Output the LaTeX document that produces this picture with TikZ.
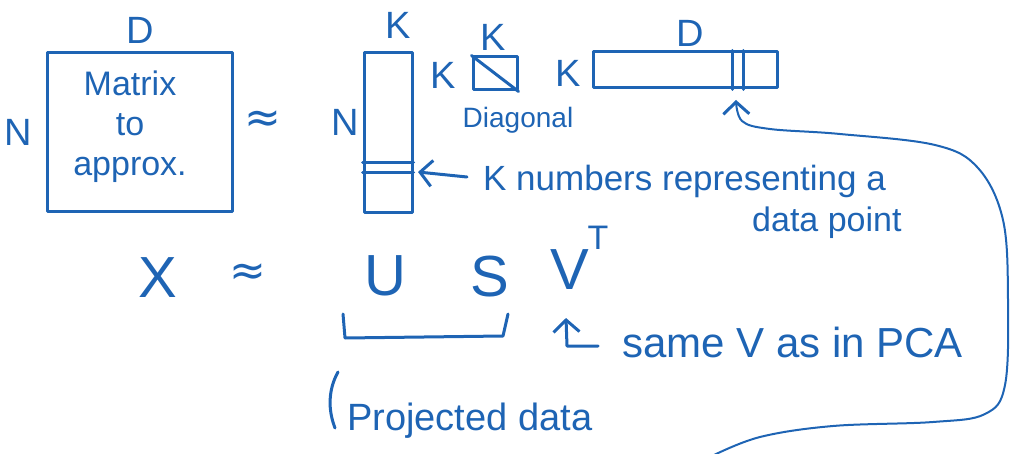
\documentclass[tikz,border=0pt]{standalone}
\usepackage{fontspec}
\setmainfont{Liberation Sans}
\newfontfamily\symfont{DejaVu Sans}
\usetikzlibrary{arrows.meta}
\definecolor{ink}{RGB}{30,100,180}
\tikzset{
  pen/.style={draw=ink, line width=3pt, line cap=round, line join=round},
  thin pen/.style={draw=ink, line width=2pt, line cap=round, line join=round},
  txt/.style={text=ink, inner sep=0pt, font=\fontsize{#1}{#1}\selectfont},
  txt/.default=34,
  approxsym/.style={text=ink, inner sep=0pt, font=\symfont\fontsize{#1}{#1}\selectfont},
  tip/.style={-{Straight Barb[length=12pt,width=26pt,line width=3pt]}}
}
\begin{document}
\begin{tikzpicture}[x=1pt,y=-1pt]
\useasboundingbox (0,0) rectangle (1011,454);
% --- X matrix
\node[txt=38] (d1) at (140,30) {D};
\node[pen, minimum width=185pt, minimum height=159pt, inner sep=0pt] (xbox) at (139.5,132.5) {};
\node[txt=34, align=center, font=\fontsize{34}{40}\selectfont] (xtext) at (130,127) {Matrix\\to\\approx.};
\node[txt=38] (n1) at (18,132) {N};
\node[approxsym=44] (ap1) at (263,122) {≈};
% --- U
\node[txt=38] (k1) at (398,25) {K};
\node[txt=38] (n2) at (345,122) {N};
\node[pen, minimum width=48pt, minimum height=160pt, inner sep=0pt] (ubox) at (388,133) {};
\draw[pen] (ubox.west |- 0,163) -- (ubox.east |- 0,163);
\draw[pen] (ubox.west |- 0,173) -- (ubox.east |- 0,173);
\coordinate (urow) at (418,172);
% --- S
\node[txt=38] (k2) at (493,37) {K};
\node[txt=38] (k3) at (443,75) {K};
\node[pen, minimum width=44pt, minimum height=33pt, inner sep=0pt] (sbox) at (495,73.5) {};
\draw[pen] (sbox.north west) -- (sbox.south east);
\node[txt=28] (diag) at (518,120) {Diagonal};
% --- V^T
\node[txt=38] (d2) at (690,33) {D};
\node[txt=38] (k4) at (568,73) {K};
\node[pen, minimum width=184pt, minimum height=36pt, inner sep=0pt] (vbox) at (685,70) {};
\draw[pen] (732,0 |- vbox.north) -- (732,0 |- vbox.south);
\draw[pen] (743,0 |- vbox.north) -- (743,0 |- vbox.south);
\coordinate (vcol) at (736,100);
% --- annotation: K numbers
\node[txt=35, anchor=base west] (knum) at (483,191) {K numbers representing a};
\node[txt=34, anchor=base west] (dpt) at (752,232) {data point};
\coordinate (knumtail) at (467,177);
\draw[pen, tip] (knumtail) -- (urow);
% --- equation row
\node[txt=58] (X) at (158,278) {X};
\node[approxsym=44] (ap2) at (248,275) {≈};
\node[txt=58] (U) at (385,276) {U};
\node[txt=58] (S) at (490,277) {S};
\node[txt=58] (V) at (570,270) {V};
\node[txt=34] (T) at (598,238) {T};
% bracket under U S
\coordinate (bl) at (343,314);
\coordinate (br) at (508,314);
\draw[pen] (bl) -- (345,338) -- (503,336) -- (br);
% hook arrow to V
\coordinate (hook) at (598,346);
\draw[pen, tip] (hook) -- (567,346) -- (566,318);
\node[txt=42, anchor=base west] (same) at (622,357) {same V as in PCA};
% projected data
\draw[pen] (338,372) .. controls (328,390) and (328,410) .. (335,428);
\node[txt=38, anchor=base west] (proj) at (347,430) {Projected data};
% long curved arrow
\coordinate (cstart) at (712,456);
\draw[thin pen, tip] plot[smooth, tension=0.6] coordinates {(cstart) (760,437) (833,426) (933,422) (985,414) (1005,385) (1008,300) (1003,220) (978,168) (935,145) (840,134) (770,129) (742,121) (vcol)};
\end{tikzpicture}
\end{document}
